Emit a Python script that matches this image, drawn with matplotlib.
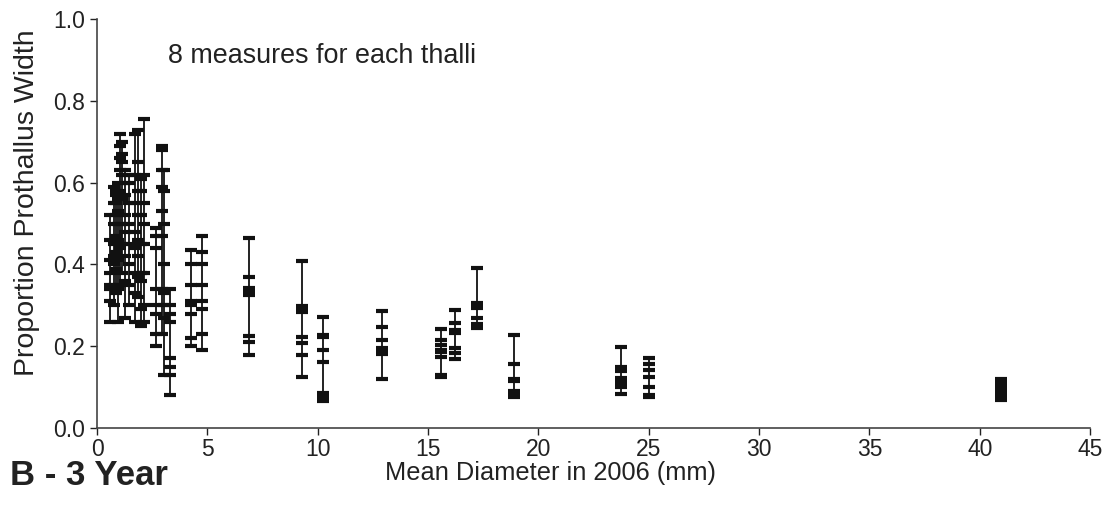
import matplotlib
matplotlib.use('Agg')
import matplotlib.pyplot as plt

plt.rcParams['font.family'] = ['Liberation Sans', 'DejaVu Sans']

# Mean diameter in 2006 (mm) of each thallus
diameters = [0.6, 0.75, 0.85, 0.95, 1.05, 1.15, 1.25, 1.45, 1.7, 1.85, 2.0, 2.15,
             2.65, 2.95, 3.05, 3.3, 4.25, 4.75, 6.9, 9.3, 10.25, 12.9,
             15.6, 16.2, 17.2, 18.9, 23.75, 25.0, 40.95]

# 8 measures of proportion prothallus width for each thallus
measures = [
    [0.26, 0.31, 0.34, 0.35, 0.38, 0.41, 0.46, 0.52],
    [0.30, 0.35, 0.40, 0.42, 0.45, 0.50, 0.55, 0.59],
    [0.33, 0.39, 0.43, 0.47, 0.52, 0.55, 0.57, 0.58],
    [0.26, 0.34, 0.41, 0.46, 0.50, 0.53, 0.56, 0.60],
    [0.35, 0.44, 0.52, 0.58, 0.63, 0.66, 0.69, 0.72],
    [0.38, 0.45, 0.50, 0.56, 0.62, 0.65, 0.67, 0.70],
    [0.27, 0.36, 0.42, 0.48, 0.52, 0.57, 0.60, 0.63],
    [0.30, 0.35, 0.40, 0.45, 0.50, 0.55, 0.60, 0.62],
    [0.26, 0.33, 0.38, 0.44, 0.48, 0.55, 0.62, 0.72],
    [0.32, 0.37, 0.42, 0.46, 0.52, 0.58, 0.65, 0.73],
    [0.25, 0.29, 0.36, 0.38, 0.45, 0.52, 0.58, 0.61],
    [0.26, 0.30, 0.38, 0.45, 0.50, 0.55, 0.62, 0.755],
    [0.20, 0.23, 0.28, 0.30, 0.34, 0.44, 0.47, 0.49],
    [0.23, 0.34, 0.47, 0.53, 0.59, 0.63, 0.68, 0.69],
    [0.13, 0.27, 0.30, 0.33, 0.40, 0.50, 0.58, 0.63],
    [0.08, 0.13, 0.15, 0.17, 0.26, 0.28, 0.30, 0.34],
    [0.20, 0.22, 0.28, 0.30, 0.31, 0.35, 0.40, 0.435],
    [0.19, 0.23, 0.29, 0.31, 0.35, 0.40, 0.43, 0.47],
    [0.178, 0.21, 0.225, 0.325, 0.333, 0.342, 0.369, 0.465],
    [0.125, 0.178, 0.208, 0.222, 0.284, 0.29, 0.298, 0.408],
    [0.066, 0.075, 0.086, 0.161, 0.191, 0.222, 0.227, 0.271],
    [0.12, 0.18, 0.185, 0.19, 0.196, 0.215, 0.247, 0.286],
    [0.125, 0.13, 0.174, 0.185, 0.191, 0.203, 0.215, 0.242],
    [0.169, 0.183, 0.196, 0.232, 0.235, 0.24, 0.257, 0.288],
    [0.245, 0.25, 0.255, 0.269, 0.293, 0.30, 0.306, 0.391],
    [0.076, 0.08, 0.086, 0.09, 0.115, 0.12, 0.156, 0.227],
    [0.083, 0.10, 0.11, 0.115, 0.122, 0.14, 0.149, 0.198],
    [0.076, 0.078, 0.08, 0.10, 0.125, 0.142, 0.156, 0.171],
    [0.068, 0.075, 0.085, 0.09, 0.095, 0.10, 0.11, 0.12],
]

fig = plt.figure(figsize=(11.09, 5.05), dpi=100)
ax = fig.add_axes([0.0875, 0.1525, 0.8955, 0.8095])

for x, vals in zip(diameters, measures):
    ax.vlines(x, min(vals), max(vals), color='#111111', linewidth=1.3)
    ax.plot([x] * len(vals), vals, linestyle='none', marker='_', markersize=9,
            markeredgewidth=3, color='#111111')

ax.set_xlim(0, 45)
ax.set_ylim(0, 1.0)
ax.set_xticks(range(0, 46, 5))
ax.set_yticks([0.0, 0.2, 0.4, 0.6, 0.8, 1.0])
ax.set_yticklabels(['0.0', '0.2', '0.4', '0.6', '0.8', '1.0'])
ax.tick_params(direction='out', length=5, width=1, labelsize=16.5, colors='#222222')
ax.tick_params(axis='x', pad=2)
for s in ['top', 'right']:
    ax.spines[s].set_visible(False)
for s in ['left', 'bottom']:
    ax.spines[s].set_color('#444444')
    ax.spines[s].set_linewidth(1.2)

ax.set_ylabel('Proportion Prothallus Width', fontsize=20.5, color='#222222')
ax.yaxis.set_label_coords(-0.057, 0.55)
fig.text(0.496, 0.063, 'Mean Diameter in 2006 (mm)', fontsize=18.3, color='#222222',
         ha='center', va='center')
ax.text(3.2, 0.91, '8 measures for each thalli', fontsize=19.4, color='#222222', va='center')
fig.text(0.009, 0.058, 'B - 3 Year', fontsize=25, fontweight='bold', color='#222222', va='center')

fig.savefig('out.png', dpi=100)
